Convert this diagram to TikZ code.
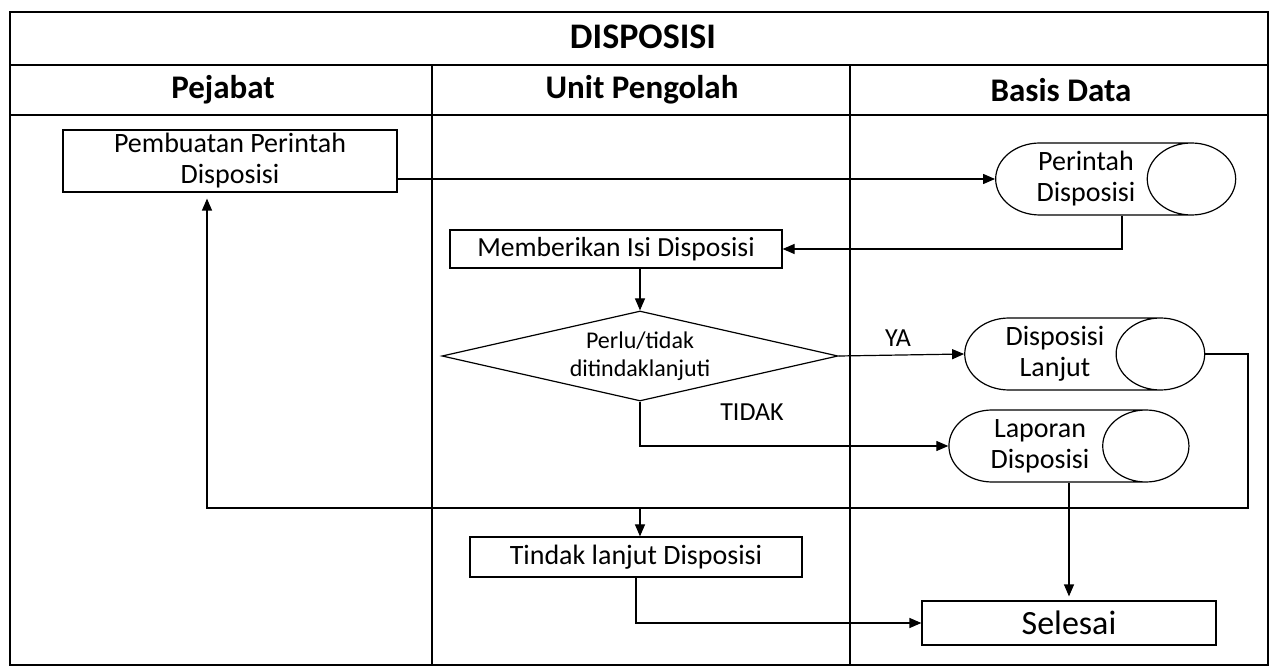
\documentclass[tikz,border=0pt]{standalone}
\usepackage{fontspec}
\setmainfont{Carlito}
\usetikzlibrary{shapes.geometric,arrows.meta}

\tikzset{
	procbox/.style={draw, rectangle, align=center, inner sep=1pt, font=\fontsize{14}{15.5}\selectfont},
	dbstore/.style={draw, cylinder, shape aspect=1.5, align=center, inner sep=1pt, minimum height=120pt, minimum width=36pt, font=\fontsize{14}{15.5}\selectfont},
	decision/.style={draw, diamond, aspect=4.4, inner sep=0pt, minimum width=198pt, minimum height=45pt, align=center, font=\fontsize{12}{14}\selectfont},
	lanehead/.style={anchor=base, font=\bfseries\fontsize{16.5}{19}\selectfont},
	flowlabel/.style={font=\fontsize{13}{15}\selectfont},
	flow/.style={-{Triangle[length=6pt,width=5pt]}, line width=0.6pt},
}

\begin{document}
\begin{tikzpicture}[x=0.5pt,y=0.5pt,yscale=-1,xscale=1, line width=0.6pt]
	\path[use as bounding box] (0,0) rectangle (1276,668);

	% Swimlane frame
	\draw (10,12) rectangle (1268,665);
	\draw (10,65) -- (1268,65);
	\draw (10,115) -- (1268,115);
	\draw (432,65) -- (432,665);
	\draw (850,65) -- (850,665);

	% Text Node
	\node (judul) [anchor=base, font=\bfseries\fontsize{18}{21}\selectfont] at (643,49) {DISPOSISI};
	\node (pejabat) [lanehead] at (223,99) {Pejabat};
	\node (unit) [lanehead] at (642,99) {Unit Pengolah};
	\node (basis) [lanehead] at (1061,102) {Basis Data};

	% Process Node
	\node (pembuatan) [procbox, minimum width=167pt, minimum height=31pt] at (230,161) {Pembuatan Perintah\\Disposisi};
	\node (memberikan) [procbox, minimum width=166pt, minimum height=19pt, font=\fontsize{13.8}{16}\selectfont] at (616,249) {Memberikan Isi Disposisi};
	\node (tindak) [procbox, minimum width=166pt, minimum height=20pt] at (636,557) {Tindak lanjut Disposisi};
	\node (selesai) [procbox, minimum width=147pt, minimum height=22pt, font=\fontsize{17}{19}\selectfont] at (1069,623) {Selesai};

	% Decision Node
	\node (keputusan) [decision] at (640,356) {Perlu/tidak\\ditindaklanjuti};

	% Data Node
	\node (perintah) [dbstore] at (1086,179) {Perintah\\Disposisi};
	\node (lanjut) [dbstore] at (1055,354) {Disposisi\\Lanjut};
	\node (laporan) [dbstore] at (1040,446) {Laporan\\Disposisi};

	% Label Node
	\node (ya) [flowlabel] at (898,338) {YA};
	\node (tidak) [flowlabel] at (752,412) {TIDAK};

	% Corner
	\coordinate (ujung) at (1248,508);
	\coordinate (kiri) at (207,508);
	\coordinate (cabang) at (640,508);

	% Connection
	\draw [flow] (perintah.west -| pembuatan.east) -- (perintah.west);
	\draw [flow] ([xshift=18pt]perintah.south) |- (memberikan.east);
	\draw [flow] (memberikan.south -| keputusan.north) -- (keputusan.north);
	\draw [flow] (keputusan.east) -- (lanjut.west);
	\draw [flow] (keputusan.south) |- (laporan.west);
	\draw [flow, shorten >=3pt] (lanjut.east) -| (ujung) -- (kiri) -- (kiri |- pembuatan.south);
	\draw [flow] (cabang) -- (cabang |- tindak.north);
	\draw [flow, shorten >=2pt] (laporan.south -| selesai.north) -- (selesai.north);
	\draw [flow] (tindak.south) |- (selesai.west);

\end{tikzpicture}
\end{document}
